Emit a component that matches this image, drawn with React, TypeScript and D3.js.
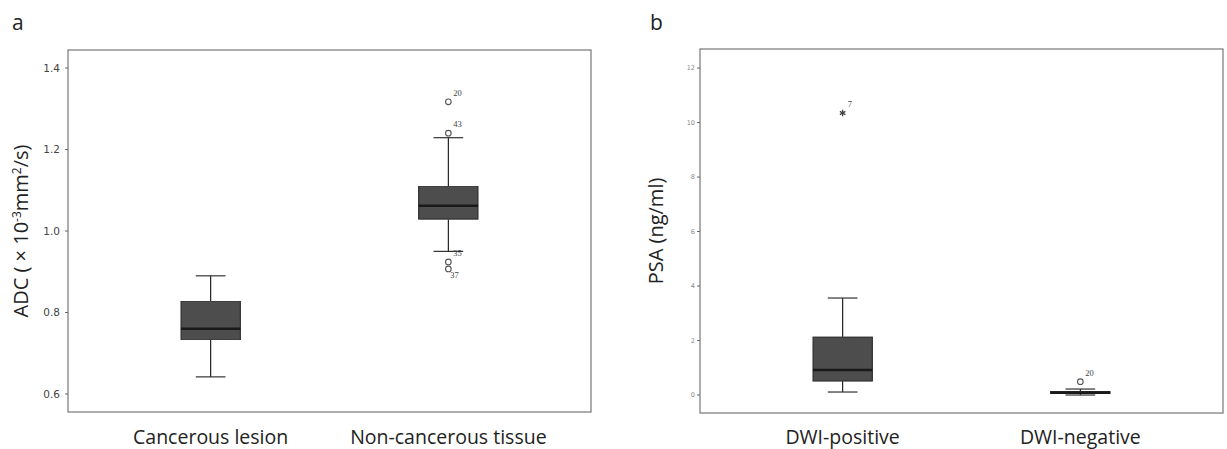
import React from "react";
import * as d3 from "d3";

// Panel a data (ADC ×10^-3 mm²/s)
const adcCategories = ["Cancerous lesion", "Non-cancerous tissue"];
const adcStats = [
  { min: 0.642, q1: 0.733, median: 0.76, q3: 0.828, max: 0.89 },
  { min: 0.95, q1: 1.029, median: 1.062, q3: 1.11, max: 1.229 },
];
const adcOutliers = [
  { cat: 1, value: 1.317, label: "20", place: "above" },
  { cat: 1, value: 1.24, label: "43", place: "above" },
  { cat: 1, value: 0.924, label: "35", place: "above" },
  { cat: 1, value: 0.907, label: "37", place: "below" },
];
const adcTicks = [0.6, 0.8, 1.0, 1.2, 1.4];

// Panel b data (PSA ng/ml)
const psaCategories = ["DWI-positive", "DWI-negative"];
const psaStats = [
  { min: 0.11, q1: 0.51, median: 0.92, q3: 2.13, max: 3.56 },
  { min: 0.0, q1: 0.04, median: 0.08, q3: 0.13, max: 0.22 },
];
const psaOutliers = [
  { cat: 0, value: 10.35, label: "7", place: "above", kind: "extreme" },
  { cat: 1, value: 0.49, label: "20", place: "above", kind: "circle" },
];
const psaTicks = [0, 2, 4, 6, 8, 10, 12];

type Stat = { min: number; q1: number; median: number; q3: number; max: number };

function Panel(props: {
  x0: number; x1: number; y0: number; y1: number;
  domain: [number, number];
  cats: string[]; stats: Stat[]; outliers: any[]; ticks: number[];
  tickFmt: (v: number) => string; tickFont: number; tickColor: string; tickGap: number;
  letter: string; letterX: number;
  ylabel: React.ReactNode; ylabelX: number; ylabelSize: number;
}) {
  const { x0, x1, y0, y1 } = props;
  const y = d3.scaleLinear().domain(props.domain).range([y1, y0]);
  const x = d3.scalePoint<string>().domain(props.cats).range([x0, x1]).padding(0.6);
  const bw = x.step() * 0.25;
  const cw = bw / 2;
  const ymid = (y0 + y1) / 2;
  return (
    <g>
      <text x={props.letterX} y={30} fontSize={21} fontFamily="Open Sans" fill="#222">{props.letter}</text>
      <rect x={x0} y={y0} width={x1 - x0} height={y1 - y0} fill="none" stroke="#777" strokeWidth={1.2} />
      {props.ticks.map((t) => (
        <g key={t}>
          <line x1={x0 - 3} x2={x0} y1={y(t)} y2={y(t)} stroke="#666" strokeWidth={1} />
          <text x={x0 - props.tickGap} y={y(t)} dy="0.35em" textAnchor="end" fontSize={props.tickFont}
            fontFamily="DejaVu Sans" fill={props.tickColor}>{props.tickFmt(t)}</text>
        </g>
      ))}
      <text transform={`translate(${props.ylabelX},${ymid}) rotate(-90)`} textAnchor="middle"
        fontSize={props.ylabelSize} fontFamily="Open Sans" fill="#222">{props.ylabel}</text>
      {props.cats.map((c, i) => {
        const s = props.stats[i];
        const cx = x(c)!;
        return (
          <g key={c}>
            <line x1={cx} x2={cx} y1={y(s.max)} y2={y(s.q3)} stroke="#222" strokeWidth={1.2} />
            <line x1={cx} x2={cx} y1={y(s.q1)} y2={y(s.min)} stroke="#222" strokeWidth={1.2} />
            <line x1={cx - cw / 2} x2={cx + cw / 2} y1={y(s.max)} y2={y(s.max)} stroke="#333" strokeWidth={1.2} />
            <line x1={cx - cw / 2} x2={cx + cw / 2} y1={y(s.min)} y2={y(s.min)} stroke="#333" strokeWidth={1.2} />
            <rect x={cx - bw / 2} y={y(s.q3)} width={bw} height={Math.max(1, y(s.q1) - y(s.q3))}
              fill="#4e4e4e" stroke="#2a2a2a" strokeWidth={1.2} filter="url(#grain)" />
            <line x1={cx - bw / 2} x2={cx + bw / 2} y1={y(s.median)} y2={y(s.median)} stroke="#1a1a1a" strokeWidth={2.5} />
            <text x={cx} y={444} textAnchor="middle" fontSize={19.5} fontFamily="Open Sans" fill="#222">{c}</text>
          </g>
        );
      })}
      {props.outliers.map((o, i) => {
        const cx = x(props.cats[o.cat])!;
        const cy = y(o.value);
        const ly = o.place === "above" ? cy - 6 : cy + 9;
        const lx = o.place === "above" ? cx + 5 : cx + 2;
        return (
          <g key={i}>
            {o.kind === "extreme" ? (
              <path transform={`translate(${cx},${cy})`} d={d3.symbol(d3.symbolAsterisk, 28)()!}
                fill="none" stroke="#444" strokeWidth={1.3} />
            ) : (
              <circle cx={cx} cy={cy} r={2.8} fill="none" stroke="#555" strokeWidth={1.1} />
            )}
            <text x={lx} y={ly} fontSize={8.5} fontFamily="Liberation Serif" fill="#444">{o.label}</text>
          </g>
        );
      })}
    </g>
  );
}

export default function App() {
  return (
    <svg width={1227} height={449} style={{ position: "absolute", left: 0, top: 0, background: "#fff" }}>
      <defs>
        <filter id="grain" x="0" y="0" width="100%" height="100%">
          <feTurbulence type="fractalNoise" baseFrequency="0.9" numOctaves={2} result="n" />
          <feColorMatrix in="n" type="matrix"
            values="0 0 0 0 0.3  0 0 0 0 0.3  0 0 0 0 0.3  0 0 0 -1.2 1.1" result="g" />
          <feComposite in="SourceGraphic" in2="g" operator="over" result="c" />
          <feComposite in="c" in2="SourceGraphic" operator="in" />
        </filter>
      </defs>
      <rect width={1227} height={449} fill="#fff" />
      <Panel x0={68} x1={591} y0={50} y1={412} domain={[0.5558, 1.4442]}
        cats={adcCategories} stats={adcStats} outliers={adcOutliers} ticks={adcTicks}
        tickFmt={(v) => v.toFixed(1)} tickFont={10.5} tickColor="#444" tickGap={8}
        letter="a" letterX={12}
        ylabel={<>ADC ( × 10<tspan dy={-7} fontSize={12}>-3</tspan><tspan dy={7}>mm</tspan><tspan dy={-7} fontSize={12}>2</tspan><tspan dy={7}>/s)</tspan></>}
        ylabelX={28} ylabelSize={20} />
      <Panel x0={700} x1={1223} y0={49} y1={413} domain={[-0.66, 12.7]}
        cats={psaCategories} stats={psaStats} outliers={psaOutliers} ticks={psaTicks}
        tickFmt={(v) => String(v)} tickFont={6.5} tickColor="#888" tickGap={5}
        letter="b" letterX={650}
        ylabel="PSA (ng/ml)" ylabelX={663} ylabelSize={20} />
    </svg>
  );
}
